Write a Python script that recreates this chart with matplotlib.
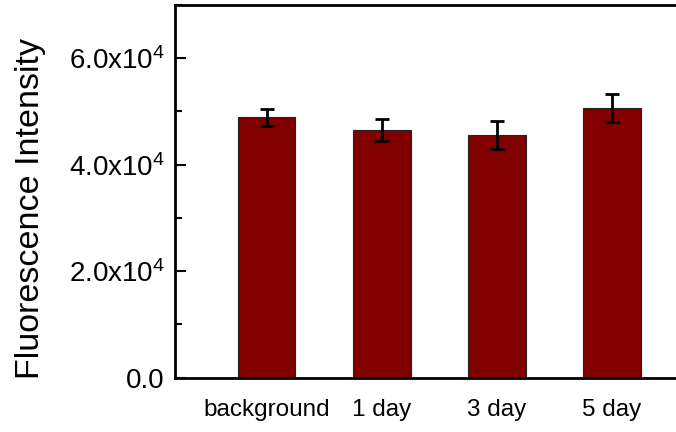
import matplotlib
matplotlib.use("Agg")
import matplotlib.pyplot as plt
from matplotlib.ticker import FuncFormatter, MultipleLocator

plt.rcParams['font.family'] = ['Liberation Sans', 'DejaVu Sans']
plt.rcParams['mathtext.fontset'] = 'custom'
plt.rcParams['mathtext.rm'] = 'Liberation Sans'
plt.rcParams['mathtext.it'] = 'Liberation Sans'

categories = ["background", "1 day", "3 day", "5 day"]
intensity = [48900, 46500, 45600, 50700]
errors = [1650, 2050, 2600, 2600]

fig = plt.figure(figsize=(6.76, 4.32), dpi=100)
ax = fig.add_axes([0.2584, 0.1257, 0.783, 0.8627])

x = [1, 2, 3, 4]
ax.bar(x, intensity, width=0.5, color='#800000', edgecolor='#222222', linewidth=0.8)
ax.errorbar(x, intensity, yerr=errors, fmt='none', ecolor='black',
            elinewidth=2, capsize=5, capthick=2)

ax.set_xlim(0.2, 4.8)
ax.set_ylim(0, 70000)
ax.set_xticks(x)
ax.set_xticklabels(categories, fontsize=17.5)
ax.tick_params(axis='x', bottom=False, length=0, pad=15)

ax.yaxis.set_major_locator(MultipleLocator(20000))
ax.yaxis.set_minor_locator(MultipleLocator(10000))
def fmt(v, pos):
    if v == 0:
        return "0.0"
    return "%.1fx10$^{%d}$" % (v / 1e4, 4)
ax.yaxis.set_major_formatter(FuncFormatter(fmt))
ax.tick_params(axis='y', which='major', direction='in', length=8, width=1.5,
               labelsize=20, pad=7)
ax.tick_params(axis='y', which='minor', direction='in', length=5, width=1.5)
ax.set_ylabel("Fluorescence Intensity", fontsize=24.5)
ax.yaxis.set_label_coords(-0.243, 0.453)

for side in ['left', 'bottom', 'top']:
    ax.spines[side].set_linewidth(2)
ax.spines['right'].set_visible(False)

fig.savefig("out.png", dpi=100)
